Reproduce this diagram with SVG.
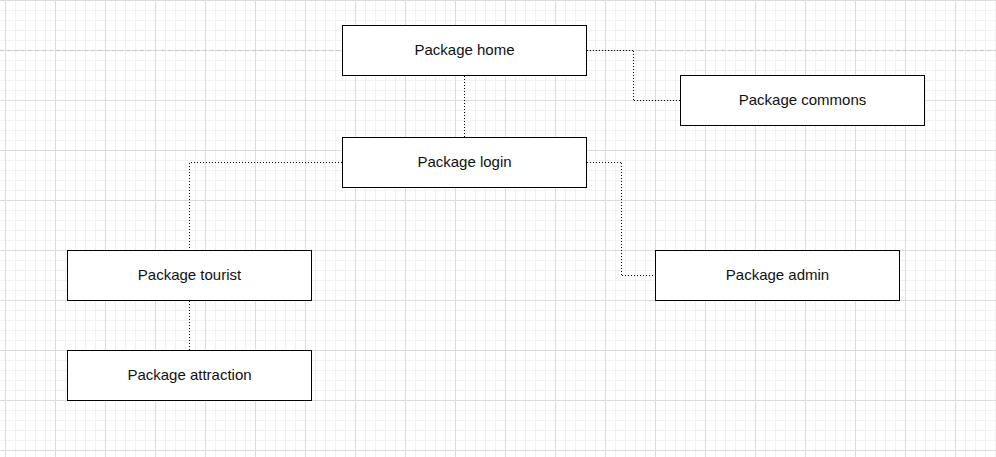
<svg xmlns="http://www.w3.org/2000/svg" width="996" height="457" viewBox="0 0 996 457">
<style>
.node rect{fill:#fff;stroke:#000;stroke-width:1}
.node text{font-family:"Liberation Sans",Arial,sans-serif;font-size:15px;fill:#111;text-anchor:middle}
#connectors path{fill:none;stroke:#000;stroke-width:1;stroke-dasharray:1 2}
</style>
<defs>
<pattern id="grid" patternUnits="userSpaceOnUse" x="5" y="0" width="50" height="50">
<path d="M10.5 0V50M20.5 0V50M30.5 0V50M40.5 0V50M0 10.5H50M0 20.5H50M0 30.5H50M0 40.5H50" stroke="#f1f1f1" stroke-width="1" fill="none"/>
<path d="M0.5 0V50M0 0.5H50" stroke="#dcdcdc" stroke-width="1" fill="none"/>
</pattern>
</defs>
<rect width="996" height="457" fill="#fff"/>
<rect width="996" height="457" fill="url(#grid)"/>
<path d="M0 50.5H996" stroke="#c8c8c8" stroke-width="1" stroke-dasharray="4 3" fill="none"/>
<g id="connectors">
<path d="M587 50.5H633M633.5 51V100M634 100.5H680"/>
<path d="M464.5 76V137"/>
<path d="M342 162.5H190M189.5 163V250"/>
<path d="M587 162.5H621M621.5 163V275M622 275.5H655"/>
<path d="M189.5 301V350"/>
</g>
<g id="home" class="node"><rect x="342.5" y="25.5" width="244" height="50"/><text x="464.5" y="55">Package home</text></g>
<g id="commons" class="node"><rect x="680.5" y="75.5" width="244" height="50"/><text x="802.5" y="105">Package commons</text></g>
<g id="login" class="node"><rect x="342.5" y="137.5" width="244" height="50"/><text x="464.5" y="167">Package login</text></g>
<g id="tourist" class="node"><rect x="67.5" y="250.5" width="244" height="50"/><text x="189.5" y="280">Package tourist</text></g>
<g id="admin" class="node"><rect x="655.5" y="250.5" width="244" height="50"/><text x="777.5" y="280">Package admin</text></g>
<g id="attraction" class="node"><rect x="67.5" y="350.5" width="244" height="50"/><text x="189.5" y="380">Package attraction</text></g>
</svg>
